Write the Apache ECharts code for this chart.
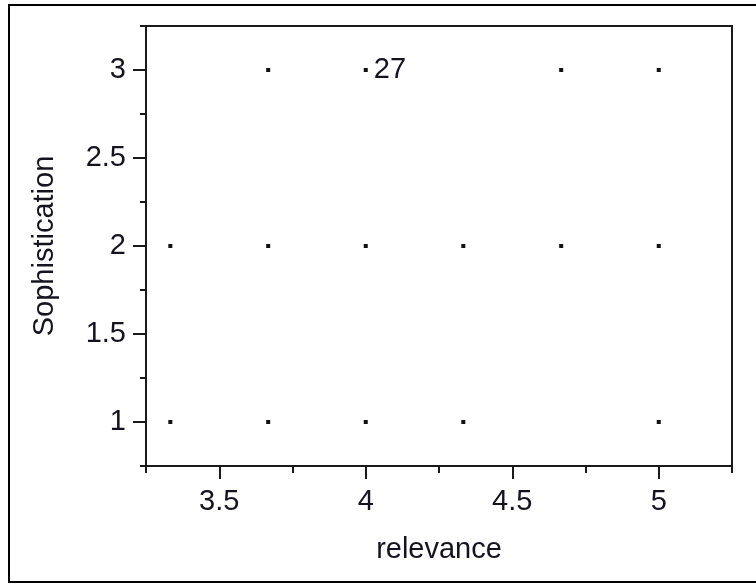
<!DOCTYPE html>
<html>
<head>
<meta charset="utf-8">
<script src="https://cdn.jsdelivr.net/npm/echarts@6/dist/echarts.min.js"></script>
<style>
html,body{margin:0;padding:0;background:#fff;}
#chart{width:756px;height:584px;}
</style>
</head>
<body>
<div id="chart"></div>
<script>
// Data
var relevance = [3.667, 4, 4.667, 5, 3.333, 3.667, 4, 4.333, 4.667, 5, 3.333, 3.667, 4, 4.333, 5];
var sophistication = [3, 3, 3, 3, 2, 2, 2, 2, 2, 2, 1, 1, 1, 1, 1];
var pointLabels = ['', '27', '', '', '', '', '', '', '', '', '', '', '', '', ''];
var xTickLabels = [3.5, 4, 4.5, 5];
var yTickLabels = [1, 1.5, 2, 2.5, 3];
var xRange = [3.25, 5.25];
var yRange = [0.75, 3.25];
var minorStep = 0.25;

var FONT = 'Liberation Sans, Arial, sans-serif';
var FS = 29;
var TXT = '#141420';
var gridRect = {left: 146, top: 26, width: 586, height: 440};

var data = relevance.map(function (x, i) {
  return {value: [x, sophistication[i]], label: {show: pointLabels[i] !== '', formatter: pointLabels[i]}};
});

var lineStyle = {color: '#1a1a1a', width: 2};

var chart = echarts.init(document.getElementById('chart'), null, {renderer: 'canvas'});
chart.setOption({
  animation: false,
  backgroundColor: '#fff',
  grid: [
    Object.assign({show: true, borderColor: '#1a1a1a', borderWidth: 2, backgroundColor: 'transparent'}, gridRect),
    Object.assign({show: false}, gridRect)
  ],
  xAxis: [
    {
      type: 'value', gridIndex: 0, min: xRange[0], max: xRange[1], interval: minorStep,
      axisLine: {show: true, onZero: false, lineStyle: lineStyle},
      axisTick: {show: true, length: 7, lineStyle: lineStyle},
      axisLabel: {show: false},
      splitLine: {show: false},
      name: 'relevance', nameLocation: 'middle', nameGap: 69,
      nameTextStyle: {fontFamily: FONT, fontSize: FS, color: TXT}
    },
    {
      type: 'value', gridIndex: 1, min: xRange[0], max: xRange[1], interval: minorStep,
      axisLine: {show: false, onZero: false},
      axisTick: {show: true, length: 13, customValues: xTickLabels, lineStyle: lineStyle},
      axisLabel: {show: true, customValues: xTickLabels, margin: 21, fontFamily: FONT, fontSize: FS, color: TXT},
      splitLine: {show: false}
    }
  ],
  yAxis: [
    {
      type: 'value', gridIndex: 0, min: yRange[0], max: yRange[1], interval: minorStep,
      axisLine: {show: true, onZero: false, lineStyle: lineStyle},
      axisTick: {show: true, length: 6, lineStyle: lineStyle},
      axisLabel: {show: false},
      splitLine: {show: false},
      name: 'Sophistication', nameLocation: 'middle', nameGap: 87,
      nameTextStyle: {fontFamily: FONT, fontSize: FS, color: TXT}
    },
    {
      type: 'value', gridIndex: 1, min: yRange[0], max: yRange[1], interval: minorStep,
      axisLine: {show: false, onZero: false},
      axisTick: {show: true, length: 13, customValues: yTickLabels, lineStyle: lineStyle},
      axisLabel: {show: true, customValues: yTickLabels, margin: 20, fontFamily: FONT, fontSize: FS, color: TXT},
      splitLine: {show: false}
    }
  ],
  series: [{
    type: 'scatter',
    xAxisIndex: 0, yAxisIndex: 0,
    symbol: 'rect', symbolSize: 4,
    itemStyle: {color: '#111', opacity: 1},
    label: {position: 'right', distance: 6, fontFamily: FONT, fontSize: FS, color: TXT,
            opacity: 1, textBorderWidth: 0, textBorderColor: 'transparent'},
    data: data
  }],
  graphic: [{
    type: 'rect', silent: true, z: 100,
    shape: {x: 9, y: 5, width: 760, height: 577},
    style: {fill: null, stroke: '#000', lineWidth: 2}
  }]
});
</script>
</body>
</html>
